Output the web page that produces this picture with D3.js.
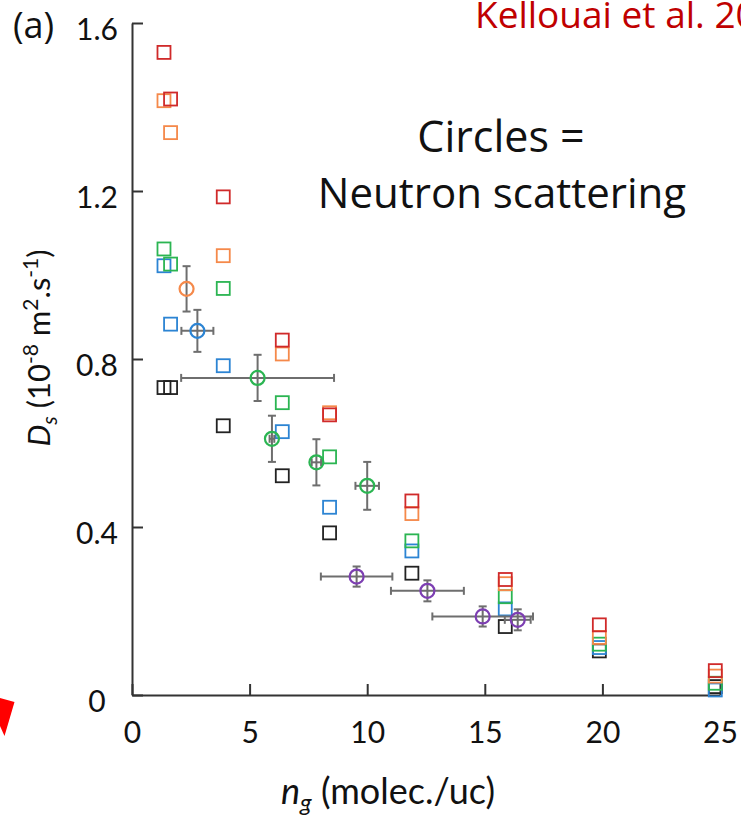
<!DOCTYPE html>
<html>
<head>
<meta charset="utf-8">
<script src="https://cdn.jsdelivr.net/npm/d3@7"></script>
<style>
  html, body { margin: 0; padding: 0; background: #fff; }
  svg { display: block; }
  text { font-family: Lato, "Open Sans", sans-serif; fill: #111; }
</style>
</head>
<body>
<svg id="chart" width="741" height="815"></svg>
<script>
// ---------- data ----------
const xTicks = [0, 5, 10, 15, 20, 25];
const yTicks = [0, 0.4, 0.8, 1.2, 1.6];

// simulation (squares) loadings, molec./uc
const simX = [1.36, 1.64, 3.88, 6.39, 8.4, 11.9, 15.87, 19.87, 24.8];
const simRed    = [1.530, 1.419, 1.186, 0.845, 0.667, 0.462, 0.275, 0.167, 0.058];
const simOrange = [1.415, 1.339, 1.046, 0.812, 0.672, 0.432, 0.265, 0.137, 0.045];
const simGreen  = [1.062, 1.026, 0.968, 0.696, 0.567, 0.367, 0.234, 0.121, 0.028];
const simBlue   = [1.022, 0.883, 0.784, 0.627, 0.447, 0.343, 0.205, 0.113, 0.012];
const simBlack  = [0.732, 0.732, 0.641, 0.522, 0.386, 0.290, 0.163, 0.105, 0.020];

// neutron scattering (circles)
const nsOrangeX = [2.32], nsOrangeY = [0.967], nsOrangeXerr = [0], nsOrangeYerr = [0.054];
const nsBlueX = [2.78], nsBlueY = [0.867], nsBlueXerr = [0.68], nsBlueYerr = [0.05];
const nsGreenX = [5.34, 5.95, 7.84, 10.0];
const nsGreenY = [0.755, 0.610, 0.554, 0.498];
const nsGreenXerr = [3.25, 0.1, 0.2, 0.5];
const nsGreenYerr = [0.055, 0.055, 0.055, 0.057];
const nsPurpleX = [9.55, 12.56, 14.91, 16.4];
const nsPurpleY = [0.282, 0.248, 0.187, 0.179];
const nsPurpleXerr = [1.52, 1.55, 2.14, 0.55];
const nsPurpleYerr = [0.024, 0.025, 0.024, 0.025];

const colors = {
  red: "#d02a2a", orange: "#f5894a", green: "#2bb552", blue: "#2c84d3",
  black: "#222222", purple: "#7d3fb2"
};

// ---------- drawing ----------
const svg = d3.select("#chart");
const x = d3.scaleLinear().domain([0, 25]).range([132, 720]);
const y = d3.scaleLinear().domain([0, 1.6]).range([695, 23]);

// axes
const yAxis = d3.axisLeft(y).tickValues(yTicks).tickSizeInner(-11).tickSizeOuter(0)
  .tickFormat(d => d === 0 ? "0" : d3.format(".1f")(d));
const gy = svg.append("g").attr("transform", `translate(${x(0)},0)`).call(yAxis);
const xAxis = d3.axisBottom(x).tickValues(xTicks).tickSizeInner(-11).tickSizeOuter(0);
const gx = svg.append("g").attr("transform", `translate(0,${y(0)})`).call(xAxis);

[gx, gy].forEach(g => {
  g.select(".domain").attr("stroke", "#333").attr("stroke-width", 2);
  g.selectAll(".tick line").attr("stroke", "#333").attr("stroke-width", 2);
  g.selectAll(".tick text").attr("fill", "#111").style("font-size", "30px")
    .style("font-family", "Lato, 'Open Sans', sans-serif");
});
gy.selectAll(".tick text").attr("text-anchor", "middle").attr("x", -35).attr("dy", null).attr("y", 16);
gx.selectAll(".tick text").attr("dy", null).attr("y", 48);

// error bars + circles
function neutron(xs, ys, xe, ye, col) {
  const g = svg.append("g");
  const cap = 4;
  xs.forEach((v, i) => {
    const cx = x(v), cy = y(ys[i]);
    const stroke = "#6e6e6e";
    if (ye[i] > 0) {
      const y0 = y(ys[i] - ye[i]), y1 = y(ys[i] + ye[i]);
      g.append("line").attr("x1", cx).attr("x2", cx).attr("y1", y0).attr("y2", y1)
        .attr("stroke", stroke).attr("stroke-width", 2);
      [y0, y1].forEach(yy => g.append("line").attr("x1", cx - cap).attr("x2", cx + cap)
        .attr("y1", yy).attr("y2", yy).attr("stroke", stroke).attr("stroke-width", 2));
    }
    if (xe[i] > 0) {
      const x0 = x(v - xe[i]), x1 = x(v + xe[i]);
      g.append("line").attr("x1", x0).attr("x2", x1).attr("y1", cy).attr("y2", cy)
        .attr("stroke", stroke).attr("stroke-width", 2);
      [x0, x1].forEach(xx => g.append("line").attr("x1", xx).attr("x2", xx)
        .attr("y1", cy - cap).attr("y2", cy + cap).attr("stroke", stroke).attr("stroke-width", 2));
    }
    g.append("circle").attr("cx", cx).attr("cy", cy).attr("r", 7)
      .attr("fill", "none").attr("stroke", col).attr("stroke-width", 2.2);
  });
}

// squares
function squares(xs, ys, col) {
  const s = 13;
  svg.append("g").selectAll("rect").data(xs.map((v, i) => [v, ys[i]])).join("rect")
    .attr("x", d => x(d[0]) - s / 2).attr("y", d => y(d[1]) - s / 2)
    .attr("width", s).attr("height", s)
    .attr("fill", "none").attr("stroke", col).attr("stroke-width", 1.8);
}
squares(simX, simBlack, colors.black);
squares(simX, simBlue, colors.blue);
squares(simX, simGreen, colors.green);
squares(simX, simOrange, colors.orange);
squares(simX, simRed, colors.red);

neutron(nsOrangeX, nsOrangeY, nsOrangeXerr, nsOrangeYerr, colors.orange);
neutron(nsBlueX, nsBlueY, nsBlueXerr, nsBlueYerr, colors.blue);
neutron(nsGreenX, nsGreenY, nsGreenXerr, nsGreenYerr, colors.green);
neutron(nsPurpleX, nsPurpleY, nsPurpleXerr, nsPurpleYerr, colors.purple);

// labels
svg.append("text").attr("x", 13).attr("y", 38)
  .attr("font-size", 36)
  .style("font-family", "'Open Sans', sans-serif").style("font-size", "36px").text("(a)");

const yl = svg.append("text").attr("transform", "translate(50,348) rotate(-90)")
  .attr("text-anchor", "middle").style("font-size", "31px");
yl.append("tspan").style("font-style", "italic").text("D");
yl.append("tspan").style("font-style", "italic").style("font-size", "21px").attr("dy", 7).text("s");
yl.append("tspan").attr("dy", -7).text(" (10");
yl.append("tspan").style("font-size", "21px").attr("dy", -12).text("-8");
yl.append("tspan").attr("dy", 12).text(" m");
yl.append("tspan").style("font-size", "21px").attr("dy", -12).text("2");
yl.append("tspan").attr("dy", 12).text(".s");
yl.append("tspan").style("font-size", "21px").attr("dy", -12).text("-1");
yl.append("tspan").attr("dy", 12).text(")");

const xl = svg.append("text").attr("x", 388).attr("y", 804).attr("text-anchor", "middle")
  .style("font-size", "36px");
xl.append("tspan").style("font-style", "italic").text("n");
xl.append("tspan").style("font-style", "italic").style("font-size", "24px").attr("dy", 7).text("g");
xl.append("tspan").attr("dy", -7).text(" (molec./uc)");

svg.append("text").attr("x", 501).attr("y", 152).attr("text-anchor", "middle")
  .style("font-family", "'Open Sans', sans-serif").style("font-size", "43px").text("Circles =");
svg.append("text").attr("x", 502).attr("y", 208).attr("text-anchor", "middle")
  .style("font-family", "'Open Sans', sans-serif").style("font-size", "42px").text("Neutron scattering");

svg.append("text").attr("x", 475).attr("y", 28)
  .style("font-family", "'Open Sans', sans-serif").style("font-size", "37px")
  .style("fill", "#c00000").text("Kellouai et al. 2020");

// red arrow fragment at bottom-left
svg.append("polygon").attr("points", "0,698 14.5,702 4.5,736 0,726").attr("fill", "#ff0000");
</script>
</body>
</html>
